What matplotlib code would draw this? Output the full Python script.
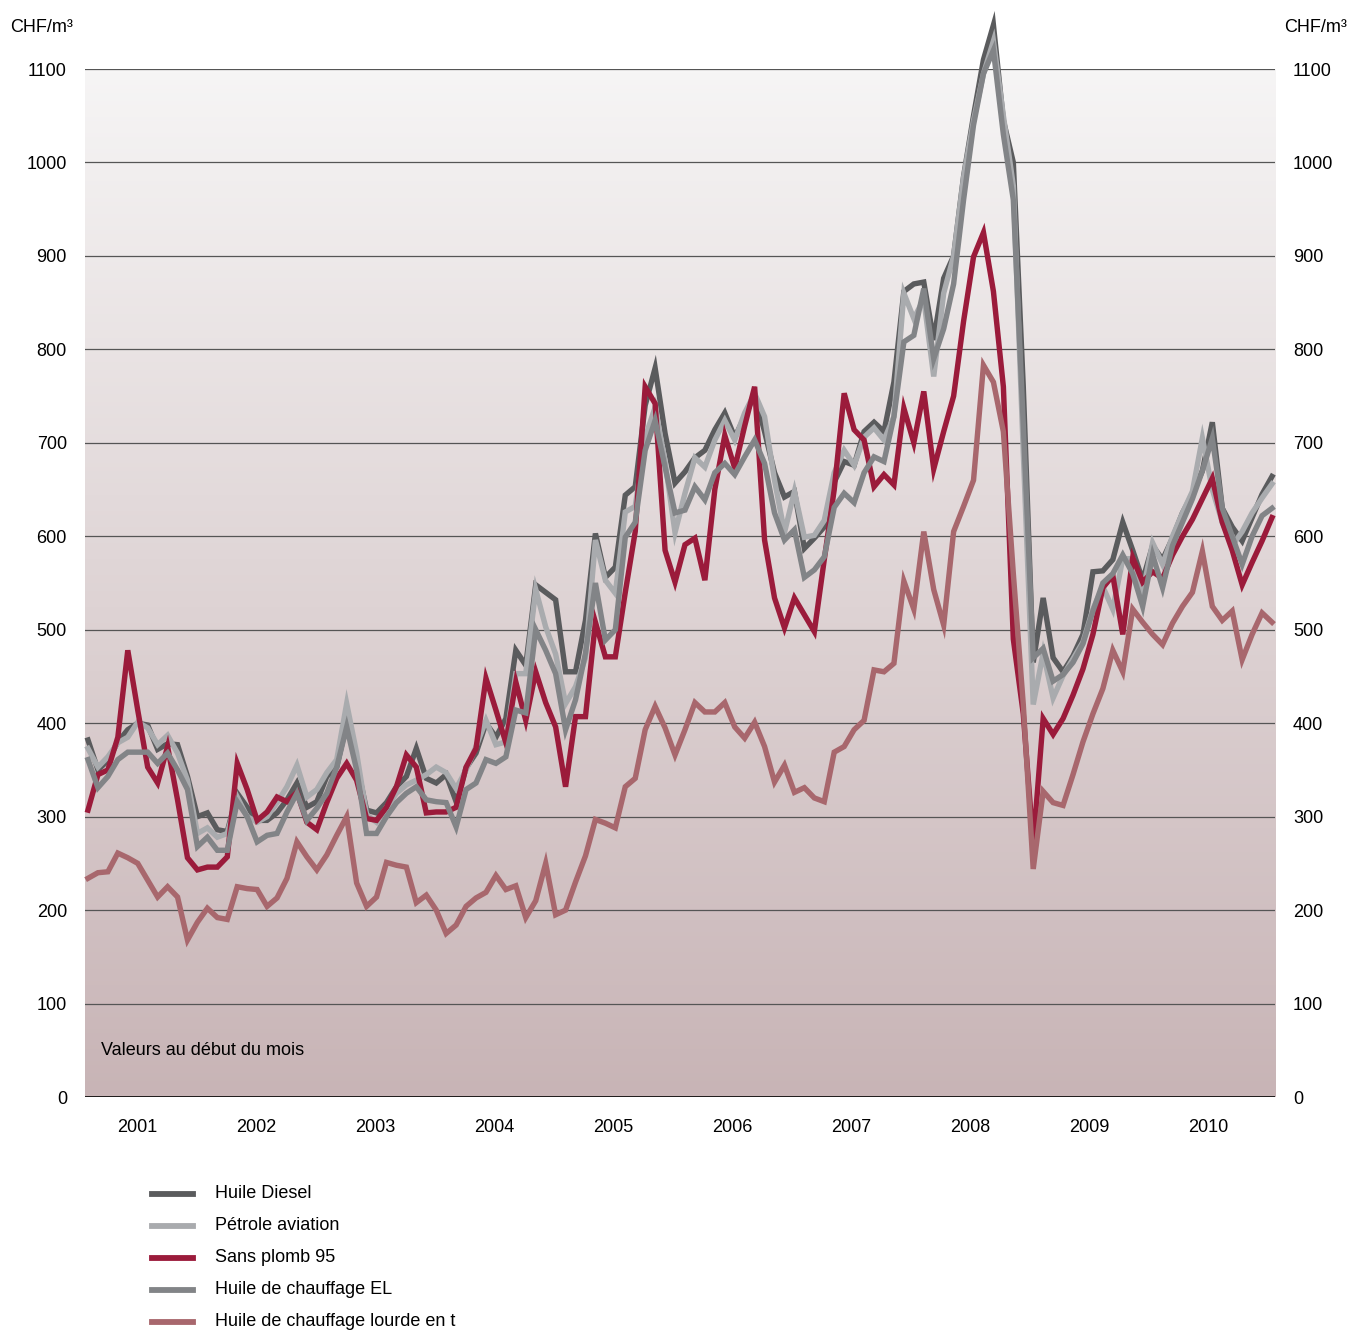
import numpy as np
import matplotlib
matplotlib.use("Agg")
import matplotlib.pyplot as plt
from matplotlib.colors import LinearSegmentedColormap
from matplotlib.lines import Line2D

plt.rcParams['font.family'] = ['Liberation Sans', 'DejaVu Sans']

# Monthly values, Jan 2001 .. Dec 2010 (CHF/m3)
years = ['2001', '2002', '2003', '2004', '2005', '2006', '2007', '2008', '2009', '2010']

diesel = [382, 350, 360, 380, 393, 400, 398, 372, 378, 377, 343, 300, 304, 286, 284, 325, 310, 296, 296, 304,
          318, 336, 310, 316, 343, 353, 400, 357, 307, 304, 315, 332, 343, 373, 341, 336, 345, 316, 352, 368,
          400, 385, 405, 478, 462, 548, 540, 532, 455, 455, 510, 603, 556, 567, 644, 653, 740, 780, 710, 657,
          669, 684, 692, 714, 732, 706, 728, 752, 712, 668, 642, 648, 587, 598, 610, 658, 680, 676, 712, 722,
          712, 765, 862, 870, 872, 810, 876, 900, 985, 1050, 1110, 1147, 1045, 1000, 760, 465, 534, 470, 455, 472,
          495, 562, 563, 575, 615, 585, 553, 590, 575, 598, 625, 645, 670, 722, 630, 610, 595, 620, 645, 664]

petrole = [373, 353, 364, 379, 385, 401, 395, 377, 387, 368, 339, 282, 288, 278, 282, 321, 300, 294, 300, 315,
           332, 355, 321, 329, 347, 361, 421, 368, 302, 294, 310, 325, 334, 339, 345, 353, 347, 330, 350, 375,
           403, 377, 380, 453, 453, 543, 503, 474, 421, 439, 470, 596, 553, 539, 626, 632, 706, 738, 680, 604,
           646, 684, 674, 703, 724, 703, 732, 753, 728, 660, 604, 648, 599, 601, 617, 668, 692, 676, 706, 716,
           703, 728, 860, 833, 854, 771, 860, 900, 984, 1045, 1095, 1130, 1050, 975, 690, 420, 475, 427, 451, 469,
           487, 522, 546, 522, 576, 576, 540, 593, 570, 600, 625, 648, 705, 650, 615, 590, 605, 625, 641, 656]

sans_plomb = [307, 345, 350, 385, 478, 414, 353, 336, 375, 318, 256, 243, 246, 246, 257, 357, 329, 296, 305, 321,
              316, 326, 294, 286, 315, 341, 357, 339, 298, 296, 310, 332, 366, 353, 304, 305, 305, 310, 353, 373,
              448, 414, 379, 444, 403, 455, 422, 396, 332, 407, 407, 508, 471, 471, 540, 605, 760, 742, 585, 551,
              591, 598, 553, 650, 708, 673, 718, 760, 596, 534, 502, 534, 516, 498, 575, 650, 753, 714, 703, 653,
              666, 655, 737, 700, 755, 672, 712, 750, 830, 899, 925, 862, 760, 490, 410, 270, 405, 388, 405, 430,
              458, 495, 545, 558, 495, 577, 551, 562, 555, 580, 600, 618, 640, 662, 615, 585, 548, 572, 595, 620]

chauffage_el = [361, 331, 343, 361, 369, 369, 369, 357, 368, 350, 329, 268, 278, 264, 264, 316, 300, 273, 280, 282,
                305, 325, 296, 309, 325, 353, 396, 350, 282, 282, 300, 315, 325, 332, 318, 316, 315, 289, 329, 336,
                361, 357, 364, 414, 411, 500, 478, 453, 393, 425, 475, 550, 489, 500, 599, 615, 692, 724, 674, 625,
                628, 653, 639, 668, 678, 666, 685, 703, 678, 625, 596, 607, 556, 564, 578, 631, 646, 636, 668, 685,
                680, 728, 808, 815, 865, 790, 822, 870, 960, 1040, 1095, 1120, 1030, 960, 720, 470, 480, 445, 452, 465,
                485, 520, 550, 560, 580, 560, 525, 580, 545, 590, 615, 640, 670, 705, 630, 600, 570, 600, 622, 630]

chauffage_lourde = [234, 240, 241, 261, 256, 250, 232, 214, 225, 214, 168, 187, 202, 192, 190, 225, 223, 222, 204, 213,
                    234, 273, 257, 243, 259, 280, 300, 229, 204, 214, 251, 248, 246, 208, 216, 200, 175, 184, 204, 213,
                    219, 237, 222, 226, 192, 210, 250, 195, 200, 230, 258, 297, 293, 288, 332, 341, 393, 418, 395, 366,
                    393, 422, 412, 412, 422, 396, 384, 401, 375, 337, 355, 326, 331, 320, 316, 369, 375, 393, 403, 457,
                    455, 464, 552, 522, 605, 543, 505, 605, 632, 660, 783, 765, 712, 560, 420, 244, 327, 315, 312, 345,
                    380, 410, 437, 478, 455, 522, 508, 495, 484, 507, 525, 540, 584, 525, 510, 520, 468, 495, 518, 508]

labels = ['Huile Diesel', 'Pétrole aviation', 'Sans plomb 95', 'Huile de chauffage EL', 'Huile de chauffage lourde en t']
colors = ['#5a5b5d', '#a9abae', '#9b1b3b', '#828487', '#a8676d']
series = [diesel, petrole, sans_plomb, chauffage_el, chauffage_lourde]
order = [4, 3, 0, 1, 2]   # drawing order, red on top

x = np.arange(len(diesel))
xmin, xmax = -0.3, 119.3

fig = plt.figure(figsize=(13.5, 13.31), dpi=100)
ax = fig.add_axes([85 / 1350, 234 / 1331, 1190 / 1350, 1028 / 1331])

# background gradient
cmap = LinearSegmentedColormap.from_list('bg', ['#c8b4b6', '#f6f5f5'])
ax.imshow(np.linspace(0, 1, 256)[:, None], extent=[xmin, xmax, 0, 1100], aspect='auto',
          cmap=cmap, origin='lower', zorder=0)

for v in range(100, 1200, 100):
    ax.axhline(v, color='#555555', lw=0.9, zorder=1)
ax.axhline(0, color='black', lw=1.2, zorder=1)

lw = 3.9
for k in order:
    ax.plot(x, series[k], color=colors[k], lw=lw, solid_joinstyle='miter', zorder=3 + k * 0.1, clip_on=False)

ax.set_xlim(xmin, xmax)
ax.set_ylim(0, 1100)
for s in ax.spines.values():
    s.set_visible(False)

fs = 13
ax.set_yticks(range(0, 1200, 100))
ax.tick_params(axis='y', length=0, labelsize=fs, pad=13, labelright=True, right=False)
ax.tick_params(axis='x', length=0, labelsize=fs, pad=16)
# year labels sit slightly left of each year's centre
ax.set_xticks([xmin + (52 + 119 * k) / 1190 * (xmax - xmin) for k in range(10)])
ax.set_xticklabels(years)

fig.text(10 / 1350, 1 - 27 / 1331, 'CHF/m³', fontsize=fs, va='center', ha='left')
fig.text(1347 / 1350, 1 - 27 / 1331, 'CHF/m³', fontsize=fs, va='center', ha='right')
ax.text((101 - 85) / 1190, 50, 'Valeurs au début du mois', fontsize=fs,
        va='center', ha='left', zorder=5, transform=ax.get_yaxis_transform())

# legend
for k in range(5):
    yy = 1 - (1194 + 32 * k) / 1331
    fig.add_artist(Line2D([152 / 1350, 193 / 1350], [yy, yy], color=colors[k], lw=4.2,
                          transform=fig.transFigure))
    fig.text(215 / 1350, yy, labels[k], fontsize=fs, va='center', ha='left')

fig.savefig('out.png', dpi=100)
